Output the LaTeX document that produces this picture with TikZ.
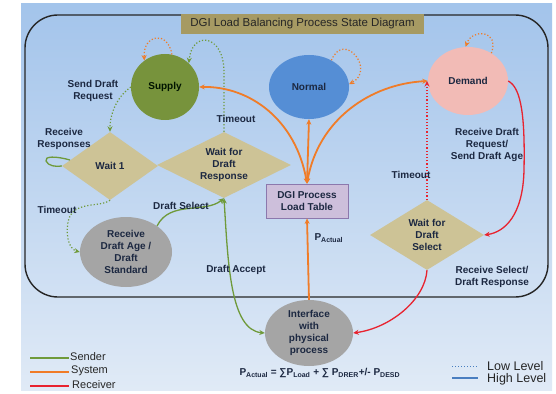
\documentclass[tikz,border=0pt]{standalone}
\usepackage{fontspec}
\setmainfont{Liberation Sans}
\usetikzlibrary{shapes.geometric,arrows.meta}

\definecolor{bgtop}{HTML}{A3C4EB}
\definecolor{bgbot}{HTML}{E0EAF6}
\definecolor{titlefill}{HTML}{A69A63}
\definecolor{supplyfill}{HTML}{77933C}
\definecolor{normalfill}{HTML}{558ED5}
\definecolor{demandfill}{HTML}{F2BBB6}
\definecolor{waitfill}{HTML}{CDC396}
\definecolor{greyfill}{HTML}{A5A5A5}
\definecolor{tablefill}{HTML}{CDBFDB}
\definecolor{tableline}{HTML}{8C78AD}
\definecolor{sendc}{HTML}{6F9A3A}
\definecolor{sysc}{HTML}{F07C28}
\definecolor{recvc}{HTML}{E8232F}
\definecolor{levelc}{HTML}{4A7EC0}
\definecolor{labelc}{HTML}{1C2841}

\tikzset{
  tip/.tip={Stealth[length=5.5pt,width=5pt]},
  nodefont/.style={font=\bfseries\fontsize{10}{12}\selectfont, text=labelc, align=center},
  lbl/.style={nodefont},
  stateov/.style={ellipse, inner sep=0pt, nodefont},
  waitbox/.style={diamond, aspect=2, inner sep=0pt, fill=waitfill, nodefont},
  sender/.style={draw=sendc, line width=1.3pt},
  senderdot/.style={draw=sendc, line width=1.2pt, dotted},
  system/.style={draw=sysc, line width=1.8pt},
  systemdot/.style={draw=sysc, line width=1.2pt, dotted},
  receiver/.style={draw=recvc, line width=1.3pt},
  receiverdot/.style={draw=recvc, line width=1.2pt, dotted},
  legendtext/.style={font=\fontsize{11}{13}\selectfont, text=black!85, anchor=west, inner sep=0pt},
}

\begin{document}
\begin{tikzpicture}[x=1pt, y=-1pt]
\useasboundingbox (0,0) rectangle (556,393);
\fill[white] (0,0) rectangle (556,393);
% slide background
\shade[top color=bgtop, bottom color=bgbot] (21,4) rectangle (552,390);

% frame of the state machine
\draw[line width=1.4pt, black!85, rounded corners=33pt] (25,15) rectangle (548,297);
\node[fill=titlefill, minimum width=243pt, minimum height=20pt, inner sep=0pt,
      font=\fontsize{11.5}{13}\selectfont, text=black!85] (title) at (302.5,24)
      {DGI Load Balancing Process State Diagram};

% states
\node[stateov, fill=supplyfill, minimum width=68pt, minimum height=66pt, text=black!80!green!40!black] (sup) at (165,87) {Supply};
\node[stateov, fill=normalfill, minimum width=80pt, minimum height=64pt] (nor) at (309,87) {Normal};
\node[stateov, fill=demandfill, minimum width=80pt, minimum height=68pt] (dem) at (468,81) {Demand};
\node[waitbox, minimum width=96pt, minimum height=68pt] (w1) at (110,166) {Wait 1};
\node[waitbox, minimum width=134pt, minimum height=66pt] (wfr) at (224,165) {Wait for\\Draft\\Response};
\node[stateov, fill=greyfill, minimum width=92pt, minimum height=70pt] (rda) at (126,252) {Receive\\Draft Age /\\Draft\\Standard};
\node[draw=tableline, line width=0.8pt, fill=tablefill, minimum width=82pt, minimum height=34pt, inner sep=0pt, nodefont] (tbl) at (307,201) {DGI Process\\Load Table};
\node[waitbox, minimum width=114pt, minimum height=70pt] (wds) at (427,235) {Wait for\\Draft\\Select};
\node[stateov, fill=greyfill, minimum width=88pt, minimum height=66pt] (ifc) at (309,333) {Interface\\with\\physical\\process};

% sender transitions
\draw[senderdot, -tip] (sup.west) .. controls (118,96) and (110,112) .. (w1.north);
\draw[senderdot, -tip] (wfr.north) -- (224,72) .. controls (224,34) and (192,30) .. (sup.45);
\draw[sender] (70,160) .. controls (56,156) and (44,156) .. (46,161) .. controls (48,166) and (56,167) .. (w1.west);
\draw[senderdot, -tip] (w1.south) .. controls (100,208) and (72,200) .. (68,222) .. controls (65,242) and (72,250) .. (rda.west);
\draw[sender, -tip] (rda.40) .. controls (170,200) and (205,214) .. (wfr.south);
\draw[sender, tip-tip] (wfr.south) .. controls (228,262) and (230,330) .. (ifc.west);

% system transitions
\draw[systemdot, -tip] (sup.78) .. controls (168,30) and (143,34) .. (sup.128);
\draw[systemdot, -tip] (nor.50) .. controls (344,30) and (376,70) .. (nor.4);
\draw[systemdot, -tip] (dem.50) .. controls (500,30) and (472,28) .. (dem.94);
\draw[system, tip-tip] (tbl.north) .. controls (296,120) and (250,86) .. (sup.east);
\draw[system, tip-tip] (tbl.north) -- (nor.south);
\draw[system, tip-tip] (tbl.north) .. controls (318,120) and (370,84) .. (dem.west);
\draw[system, -tip] (ifc.north) -- (tbl.south);

% receiver transitions
\draw[receiver, -tip] (dem.east) .. controls (522,88) and (525,120) .. (524,170) .. controls (523,215) and (505,232) .. (wds.east);
\draw[receiverdot, -tip] (wds.north) -- (wds.north |- dem.west);
\draw[receiver, -tip] (wds.south) .. controls (425,300) and (390,328) .. (ifc.east);

% transition labels
\node[lbl] (lsdr) at (93,91) {Send Draft\\Request};
\node[lbl] (lrr) at (64,139) {Receive\\Responses};
\node[lbl] (lto1) at (236,119) {Timeout};
\node[lbl] (lto2) at (57,210) {Timeout};
\node[lbl] (lds) at (181,206) {Draft Select};
\node[lbl] (lda) at (236,270) {Draft Accept};
\node[lbl] (lto3) at (411,175) {Timeout};
\node[lbl] (lrdr) at (487,145) {Receive Draft\\Request/\\Send Draft Age};
\node[lbl] (lrs) at (492,277) {Receive Select/\\Draft Response};
\node[lbl, anchor=west] (lpa) at (311,238) {P\textsubscript{Actual}};

% formula
\node[lbl, anchor=west, font=\bfseries\fontsize{10}{12}\selectfont] (formula) at (236,373)
  {P\textsubscript{Actual} = ∑P\textsubscript{Load} + ∑ P\textsubscript{DRER}+/- P\textsubscript{DESD}};

% legend: roles
\coordinate (gs) at (30,358); \coordinate (ge) at (69,358);
\coordinate (os) at (30,372); \coordinate (oe) at (69,372);
\coordinate (rs) at (30,386); \coordinate (re) at (69,386);
\draw[sender] (gs) -- (ge);
\draw[system, line width=1.3pt] (os) -- (oe);
\draw[receiver] (rs) -- (re);
\node[legendtext] (tsend) at (70,357) {Sender};
\node[legendtext] (tsys) at (71,371) {System};
\node[legendtext] (trecv) at (72,385) {Receiver};

% legend: levels
\coordinate (ls) at (452,366); \coordinate (le) at (478,366);
\coordinate (hs) at (452,378); \coordinate (he) at (478,378);
\draw[levelc, line width=1pt, dotted] (ls) -- (le);
\draw[levelc, line width=1.3pt] (hs) -- (he);
\node[legendtext, font=\fontsize{12.5}{14}\selectfont] (tlow) at (487,366) {Low Level};
\node[legendtext, font=\fontsize{12.5}{14}\selectfont] (thigh) at (487,379) {High Level};
\end{tikzpicture}
\end{document}
